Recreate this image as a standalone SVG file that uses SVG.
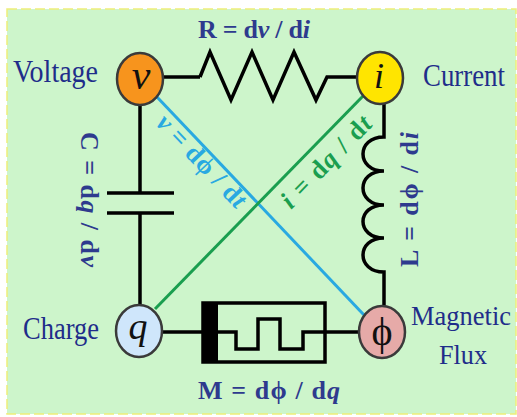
<svg xmlns="http://www.w3.org/2000/svg" width="517" height="417" viewBox="0 0 517 417">
<style>
.w{fill:none;stroke:#000;stroke-width:3.5;stroke-linejoin:miter}
.node{stroke:#3a3a3a;stroke-width:2.5}
.sym{font-family:"Liberation Serif",serif;font-style:italic;fill:#111;text-anchor:middle}
.up{font-style:normal}
.name{font-family:"Liberation Serif",serif;font-size:31px;fill:#1f2d8a}
.sm{font-size:28px}
.f{font-family:"Liberation Serif",serif;font-weight:bold;font-size:26px;fill:#2e3a8e}
.it{font-style:italic}
</style>
<rect x="7" y="9" width="509" height="405" fill="#cdf5cb" stroke="#eeee7a" stroke-width="1.5" stroke-dasharray="10 4"/>
<g id="connectors">
<path d="M157,97 L364,315" fill="none" stroke="#29a9e1" stroke-width="3"/>
<path d="M155,309 L364,95" fill="none" stroke="#1a9e4f" stroke-width="3"/>
<path d="M163,77 H200" class="w" stroke-width="6"/>
<path d="M200,77 L210,52 L231,100 L252,52 L273,100 L294,52 L316,100 L327,77 H357" class="w"/>
<path d="M140,105 V193 M140,213 V305" class="w"/>
<path d="M107,193 H174 M107,213 H174" class="w" stroke-width="5"/>
<path d="M384,104 V137 C356,137 356,171 384,171 C356,171 356,205 384,205 C356,205 356,238 384,238 C356,238 356,272 384,272 V306" class="w"/>
<path d="M162,332 H203 M325,332 H359" class="w"/>
<rect x="203" y="303" width="122" height="59" class="w" stroke-width="4"/>
<rect x="203" y="303" width="15" height="59" fill="#000"/>
<path d="M218,332 H236 V349 H258 V319 H280 V349 H303 V332 H325" class="w"/>
</g>
<g id="node-v">
<ellipse cx="140" cy="79" rx="23" ry="26" fill="#f7941d" class="node"/>
<text x="141" y="89" class="sym" font-size="42">v</text>
<text x="13" y="82" class="name" textLength="85" lengthAdjust="spacingAndGlyphs">Voltage</text>
</g>
<g id="node-i">
<ellipse cx="380" cy="78" rx="23" ry="26" fill="#ffe500" class="node"/>
<text x="379" y="88" class="sym" font-size="36">i</text>
<text x="423" y="86" class="name" textLength="82" lengthAdjust="spacingAndGlyphs">Current</text>
</g>
<g id="node-q">
<ellipse cx="139" cy="331" rx="23" ry="26" fill="#cfe6fb" class="node"/>
<text x="138" y="339" class="sym" font-size="38">q</text>
<text x="23" y="339" class="name" textLength="76" lengthAdjust="spacingAndGlyphs">Charge</text>
</g>
<g id="node-phi">
<ellipse cx="382" cy="332" rx="23" ry="26" fill="#e6aaa8" class="node"/>
<text x="382" y="345" class="sym up" font-size="40">ϕ</text>
<text x="411" y="325" class="name sm" textLength="100" lengthAdjust="spacingAndGlyphs">Magnetic</text>
<text x="439" y="364" class="name sm" textLength="48" lengthAdjust="spacingAndGlyphs">Flux</text>
</g>
<g id="labels">
<text x="198" y="38" class="f" textLength="112">R = d<tspan class="it">v</tspan> / d<tspan class="it">i</tspan></text>
<text x="198" y="399" class="f" textLength="142">M = dϕ / d<tspan class="it">q</tspan></text>
<text transform="translate(81,132) rotate(90)" class="f" font-size="28" textLength="135">C = d<tspan class="it">q</tspan> / d<tspan class="it">v</tspan></text>
<text transform="translate(418,267) rotate(-90)" class="f" font-size="27" textLength="135">L = dϕ / d<tspan class="it">i</tspan></text>
<text transform="translate(155,124) rotate(46.5)" class="f" font-size="27" style="fill:#29a9e1" textLength="118"><tspan class="it">v</tspan> = dϕ / d<tspan class="it">t</tspan></text>
<text transform="translate(291,210) rotate(-45.7)" class="f" font-size="27" style="fill:#1a9e4f" textLength="118"><tspan class="it">i</tspan> = d<tspan class="it">q</tspan> / d<tspan class="it">t</tspan></text>
</g>
</svg>
